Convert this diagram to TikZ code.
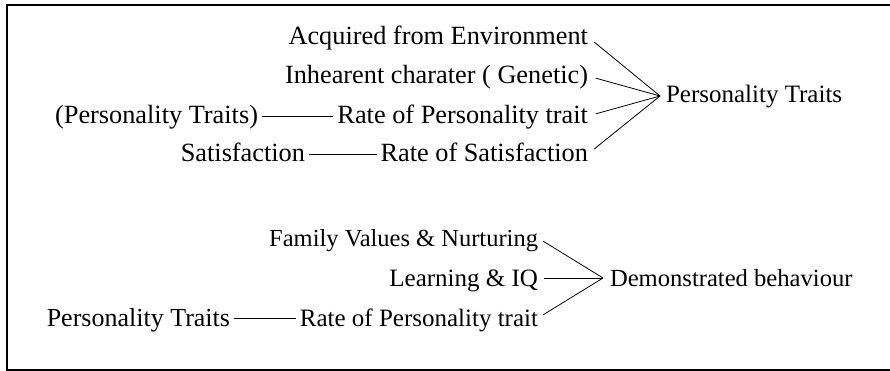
\documentclass[tikz,border=0pt]{standalone}
\usepackage{fontspec}
\setmainfont{Liberation Serif}
\begin{document}
\begin{tikzpicture}[x=1pt,y=-1pt,
  lbl/.style={inner sep=0pt, outer sep=0pt, text height=16pt, text depth=0pt, font=\fontsize{25}{30}\selectfont},
  big/.style={lbl, font=\fontsize{26.3}{31}\selectfont},
  conn/.style={line width=0.8pt, black},
  hconn/.style={conn, shorten <=4pt, shorten >=4pt},
  frame/.style={line width=2pt}]
\useasboundingbox (0,0) rectangle (890,371);
\draw[frame] (890,5.5) -- (7,5.5) -- (7,370) -- (890,370);
% top group
\node[big, anchor=east] (acq) at (588,37) {Acquired from Environment};
\node[big, anchor=east] (inh) at (588,76) {Inhearent charater ( Genetic)};
\node[big, anchor=east] (rpt) at (588,116) {Rate of Personality trait};
\node[big, anchor=east] (rsat) at (588,154) {Rate of Satisfaction};
\node[big, anchor=east] (ptp) at (258,116) {(Personality Traits)};
\node[big, anchor=east] (sat) at (305,154) {Satisfaction};
\coordinate (c1) at (660,96);
\node[lbl, anchor=west] (pt) at (666,95) {Personality Traits};
\draw[conn, shorten <=8pt] (acq.east) -- (c1);
\draw[conn, shorten <=8pt] (inh.east) -- (c1);
\draw[conn, shorten <=8pt] (rpt.east) -- (c1);
\draw[conn, shorten <=8pt] (rsat.east) -- (c1);
\draw[hconn] (ptp.east) -- (rpt.west);
\draw[hconn] (sat.east) -- (rsat.west);
% bottom group
\node[lbl, font=\fontsize{24.5}{30}\selectfont, anchor=east] (fam) at (538,238) {Family Values \& Nurturing};
\node[lbl, anchor=east] (lea) at (538,278) {Learning \& IQ};
\node[lbl, anchor=east] (rpt2) at (538,318) {Rate of Personality trait};
\node[lbl, font=\fontsize{26}{30}\selectfont, anchor=east] (pt2) at (230,318) {Personality Traits};
\coordinate (c2) at (603,278);
\node[lbl, font=\fontsize{24.6}{30}\selectfont, anchor=west] (db) at (610,278) {Demonstrated behaviour};
\draw[conn, shorten <=6pt] (fam.east) -- (c2);
\draw[conn, shorten <=6pt] (lea.east) -- (c2);
\draw[conn, shorten <=6pt] (rpt2.east) -- (c2);
\draw[hconn] (pt2.east) -- (rpt2.west);
\end{tikzpicture}
\end{document}
